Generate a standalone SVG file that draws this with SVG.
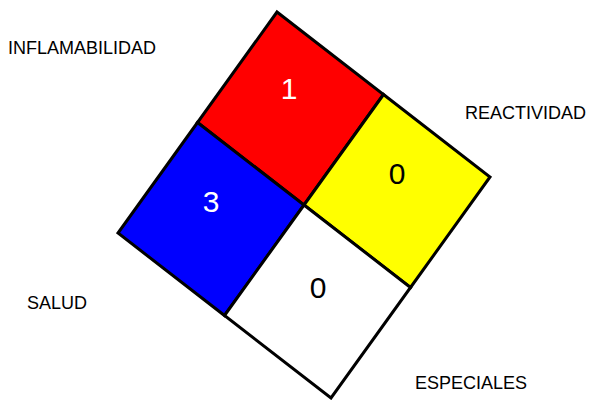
<svg xmlns="http://www.w3.org/2000/svg" width="590" height="400" viewBox="0 0 590 400">
<style>
.q{stroke:#000;stroke-width:3;stroke-linejoin:miter}
.lbl{font-family:"Liberation Sans",Arial,sans-serif;font-size:18px;fill:#000}
.num{font-family:"Liberation Sans",Arial,sans-serif;font-size:30px;text-anchor:middle}
</style>
<rect width="590" height="400" fill="#fff"/>
<g id="inflamabilidad">
<polygon class="q" fill="#ff0000" points="277,12 383.5,94.5 304,205 197.5,122.5"/>
<text class="num" x="289" y="99" fill="#fff">1</text>
</g>
<g id="reactividad">
<polygon class="q" fill="#ffff00" points="383.5,94.5 490,177 410.5,287.5 304,205"/>
<text class="num" x="397" y="184" fill="#000">0</text>
</g>
<g id="salud">
<polygon class="q" fill="#0000ff" points="197.5,122.5 304,205 224.5,315.5 118,233"/>
<text class="num" x="211" y="212" fill="#fff">3</text>
</g>
<g id="especiales">
<polygon class="q" fill="#ffffff" points="304,205 410.5,287.5 331,398 224.5,315.5"/>
<text class="num" x="318" y="298" fill="#000">0</text>
</g>
<g id="labels">
<text class="lbl" x="8" y="54">INFLAMABILIDAD</text>
<text class="lbl" x="465" y="119">REACTIVIDAD</text>
<text class="lbl" x="27" y="309">SALUD</text>
<text class="lbl" x="415" y="389">ESPECIALES</text>
</g>
<g id="connectors"/>
</svg>
